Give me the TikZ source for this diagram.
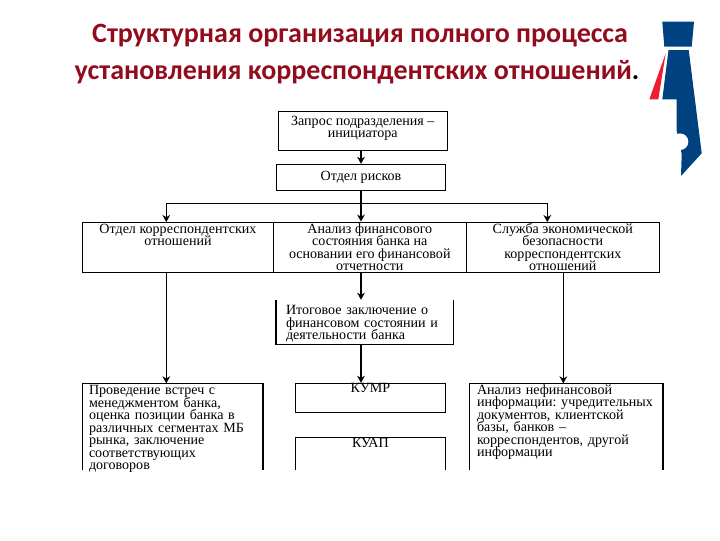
\documentclass[tikz,border=0pt]{standalone}
\usepackage{fontspec}
\setmainfont{Liberation Serif}
\newfontfamily\titlefont{Carlito}
\usetikzlibrary{arrows.meta, positioning, calc}
\definecolor{logoblue}{RGB}{0, 66, 128}
\definecolor{logored}{RGB}{237, 28, 46}
\definecolor{titlered}{RGB}{145, 12, 28}
\newcommand{\boxfont}{\fontsize{10pt}{8.9pt}\selectfont\frenchspacing\lineskiplimit=-20pt}
\tikzset{
  flowbox/.style={draw, line width=0.75pt, inner sep=0pt, align=center, font=\boxfont},
  openbox/.style={inner sep=0pt, align=left, font=\boxfont},
  flowline/.style={line width=0.75pt},
  flowarrow/.style={line width=0.75pt, -{Stealth[length=5pt,width=5.5pt]}},
  titleline/.style={font=\titlefont\bfseries\fontsize{19.9pt}{20pt}\selectfont, text=titlered, inner sep=0pt}
}
\begin{document}
\begin{tikzpicture}[x=0.025cm, y=-0.025cm]
  \useasboundingbox (0,0) rectangle (720,540);
  % title
  \node[titleline] (title1) at (360,35.5) {Структурная организация полного процесса};
  \node[titleline] (title2) at (357,72) {установления корреспондентских отношений\textcolor{black}{.}};
  % logo
  \fill[logoblue] (662.3,21.7) -- (694,21.7) -- (691.7,46.7) -- (664.3,46.7) -- cycle;
  \fill[logoblue] (668.5,50) -- (688.7,50) -- (701.7,153.3) -- (681,176) -- (681.7,154) -- (676.7,131) -- (676.7,99.3) -- (662.3,99.3) -- cycle;
  \fill[white] (680,141.7) circle (8.3);
  \fill[logored] (665.7,53.3) -- (658.3,99.3) -- (649.3,99.3) -- cycle;
  % upper boxes
  \node[flowbox, minimum width=169.5*0.025cm, minimum height=38.5*0.025cm] (zapros) at (362.8,131) {Запрос подразделения --\\инициатора\\[-3.3pt]\mbox{}};
  \node[flowbox, minimum width=168.5*0.025cm, minimum height=26*0.025cm] (riski) at (361,177.3) {Отдел рисков};
  \node[flowbox, minimum width=190.6*0.025cm, minimum height=50.3*0.025cm] (otdel) at (178,247.2) {Отдел корреспондентских\\отношений\\~\\~};
  \node[flowbox, minimum width=193*0.025cm, minimum height=50.3*0.025cm] (analiz) at (369.8,247.2) {Анализ финансового\\состояния банка на\\основании его финансовой\\отчетности};
  \node[flowbox, minimum width=193*0.025cm, minimum height=50.3*0.025cm] (sluzhba) at (562.8,247.2) {Служба экономической\\безопасности\\корреспондентских\\отношений};
  % boxes with a side missing
  \node[openbox, text width=157.6*0.025cm, minimum width=177*0.025cm, minimum height=44*0.025cm] (itog) at (364.8,322) {\rule{0pt}{9.5pt}Итоговое заключение о\\финансовом состоянии и\\деятельности банка};
  \draw[flowline] (itog.north west) -- (itog.south west) -- (itog.south east) -- (itog.north east);
  \node[openbox, text width=167.4*0.025cm, minimum width=180*0.025cm, minimum height=86.7*0.025cm] (vstrechi) at (172.7,426.7) {\rule{0pt}{7.6pt}Проведение встреч с\\менеджментом банка,\\оценка позиции банка в\\различных сегментах МБ\\рынка, заключение\\соответствующих\\\smash{договоров}};
  \draw[flowline] (vstrechi.south west) -- (vstrechi.north west) -- (vstrechi.north east) -- (vstrechi.south east);
  \node[flowbox, minimum width=149.3*0.025cm, minimum height=29*0.025cm] (kumr) at (370.4,397.8) {КУМР\\[5pt]\mbox{}};
  \node[openbox, align=center, minimum width=149.3*0.025cm, minimum height=32.7*0.025cm] (kuap) at (370.4,453.7) {КУАП\\[6pt]\mbox{}};
  \draw[flowline] (kuap.south west) -- (kuap.north west) -- (kuap.north east) -- (kuap.south east);
  \node[openbox, text width=178*0.025cm, minimum width=193.4*0.025cm, minimum height=86.7*0.025cm] (neanaliz) at (566,426.7) {Анализ нефинансовой\\информации: учредительных\\документов, клиентской\\базы, банков --\\корреспондентов, другой\\информации\\~};
  \draw[flowline] (neanaliz.south west) -- (neanaliz.north west) -- (neanaliz.north east) -- (neanaliz.south east);
  % connectors
  \coordinate (bus) at (361,203.3);
  \coordinate (otdelin) at (166.3,222);
  \coordinate (otdelout) at (166.3,272.3);
  \coordinate (vstrechiin) at (166.3,383.3);
  \coordinate (sluzhbain) at (547.3,222);
  \coordinate (sluzhbaout) at (563.3,272.3);
  \coordinate (neanalizin) at (563.3,383.3);
  \draw[flowarrow] (zapros.south -| riski.north) -- (riski.north);
  \draw[flowarrow] (riski.south) -- (riski.south |- analiz.north);
  \draw[flowarrow] (bus) -| (otdelin);
  \draw[flowarrow] (bus) -| (sluzhbain);
  \draw[flowarrow] (riski.south |- analiz.south) -- (riski.south |- itog.north);
  \draw[flowarrow] (riski.south |- itog.south) -- (riski.south |- kumr.north);
  \draw[flowarrow] (otdelout) -- (vstrechiin);
  \draw[flowarrow] (sluzhbaout) -- (neanalizin);
\end{tikzpicture}
\end{document}
